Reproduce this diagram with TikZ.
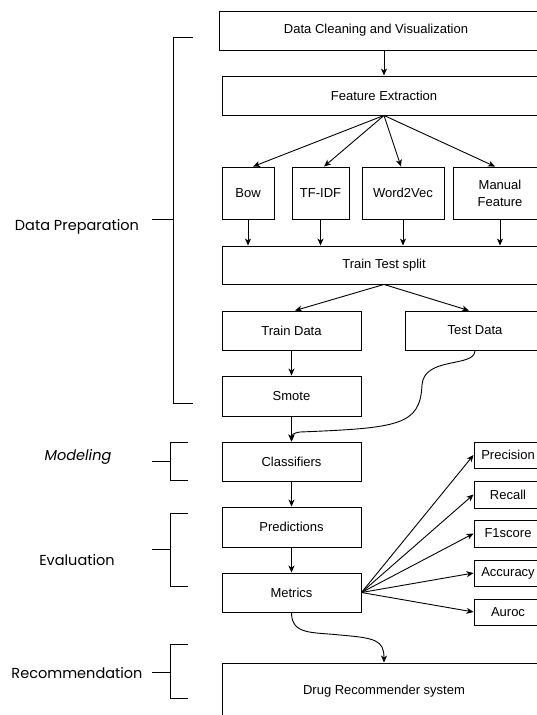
\documentclass[tikz,border=0pt]{standalone}
\usepackage{fontspec}
\setmainfont{Liberation Sans}
\newfontfamily\lblfont{Poppins}
\usetikzlibrary{arrows.meta}
\begin{document}
\begin{tikzpicture}[x=1pt,y=-1pt,
  box/.style={draw, line width=0.9pt, inner sep=0pt, align=center, font=\fontsize{13}{17}\selectfont},
  arr/.style={line width=0.9pt, -{Stealth[length=7pt,width=6pt,inset=2pt]}},
  brk/.style={line width=0.9pt},
  lbl/.style={font=\lblfont\fontsize{14.5}{17}\selectfont, inner sep=0pt}]
\useasboundingbox (0,0) rectangle (537,715);
\clip (0,0) rectangle (537,715);
% boxes
\node[box, minimum width=330pt, minimum height=39pt] (dc) at (384,30.5) {\hspace*{-16pt}Data Cleaning and Visualization};
\node[box, minimum width=324pt, minimum height=39pt] (fe) at (384,95.5) {Feature Extraction};
\node[box, minimum width=52pt, minimum height=52pt] (bow) at (248,193) {Bow};
\node[box, minimum width=57pt, minimum height=52pt] (tfidf) at (320.5,193) {TF-IDF};
\node[box, minimum width=82pt, minimum height=52pt] (w2v) at (403,193) {Word2Vec};
\node[box, minimum width=94pt, minimum height=52pt] (man) at (500,193) {Manual\\Feature};
\node[box, minimum width=324pt, minimum height=38pt] (tts) at (384,265) {Train Test split};
\node[box, minimum width=139pt, minimum height=39pt] (trd) at (291.5,330.5) {Train Data};
\node[box, minimum width=140pt, minimum height=39pt] (ted) at (475,330.5) {Test Data};
\node[box, minimum width=139pt, minimum height=40pt] (smote) at (291.5,396) {Smote};
\node[box, minimum width=139pt, minimum height=39pt] (cls) at (291.5,461.5) {Classifiers};
\node[box, minimum width=139pt, minimum height=40pt] (pred) at (291.5,527) {Predictions};
\node[box, minimum width=139pt, minimum height=39pt] (met) at (291.5,592.5) {Metrics};
\node[box, minimum width=324pt, minimum height=56pt] (drug) at (384,691) {Drug Recommender system};
\node[box, minimum width=68pt, minimum height=26pt] (prec) at (508,455) {Precision};
\node[box, minimum width=68pt, minimum height=27pt] (rec) at (508,494.5) {Recall};
\node[box, minimum width=68pt, minimum height=27pt] (f1) at (508,533.5) {F1score};
\node[box, minimum width=68pt, minimum height=26pt] (acc) at (508,573) {Accuracy};
\node[box, minimum width=68pt, minimum height=26pt] (aur) at (508,612) {Auroc};
% connectors
\draw[arr] (dc.south) -- (fe.north);
\draw[arr] (fe.south) -- ([xshift=5pt]bow.north);
\draw[arr] (fe.south) -- ([xshift=3.5pt]tfidf.north);
\draw[arr] (fe.south) -- ([xshift=-2pt]w2v.north);
\draw[arr] (fe.south) -- ([xshift=-5pt]man.north);
\draw[arr] (bow.south) -- (bow.south |- tts.north);
\draw[arr] (tfidf.south) -- (tfidf.south |- tts.north);
\draw[arr] (w2v.south) -- (w2v.south |- tts.north);
\draw[arr] (man.south) -- (man.south |- tts.north);
\draw[arr] (tts.south) -- ([xshift=3.5pt]trd.north);
\draw[arr] (tts.south) -- ([xshift=-6pt]ted.north);
\draw[arr] (trd.south) -- (smote.north);
\draw[arr] (smote.south) -- (cls.north);
\draw[arr] (ted.south) .. controls (475,368) and (424,356) .. (422,385)
  .. controls (420,425) and (400,428) .. (300,432)
  .. controls (293,433) and (291.5,435) .. (cls.north);
\draw[arr] (cls.south) -- (pred.north);
\draw[arr] (pred.south) -- (met.north);
\draw[arr] (met.east) -- (prec.west);
\draw[arr] (met.east) -- (rec.west);
\draw[arr] (met.east) -- (f1.west);
\draw[arr] (met.east) -- (acc.west);
\draw[arr] (met.east) -- (aur.west);
\draw[arr] (met.south) .. controls (291.5,635) and (312,632) .. (340,635)
  .. controls (375,638) and (384,640) .. (drug.north);
% brackets
\draw[brk] (193,37) -- (173,37) -- (173,403) -- (193,403);
\draw[brk] (152,219) -- (173,219);
\draw[brk] (188,442) -- (170,442) -- (170,480) -- (188,480);
\draw[brk] (152,461) -- (170,461);
\draw[brk] (188,513) -- (170,513) -- (170,586) -- (188,586);
\draw[brk] (152,549) -- (170,549);
\draw[brk] (188,644) -- (170,644) -- (170,698) -- (188,698);
\draw[brk] (152,672) -- (170,672);
% labels
\node[lbl] (ldp) at (77,227) {Data Preparation};
\node[lbl] (lmod) at (78,457) {\itshape Modeling};
\node[lbl] (leva) at (77,560) {Evaluation};
\node[lbl] (lrec) at (77,673) {Recommendation};
\end{tikzpicture}
\end{document}
